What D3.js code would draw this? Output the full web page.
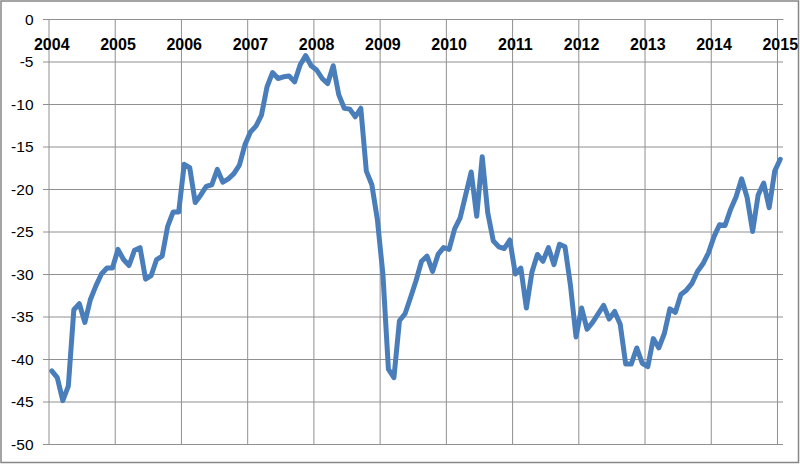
<!DOCTYPE html>
<html><head><meta charset="utf-8">
<script src="https://cdn.jsdelivr.net/npm/d3@7"></script>
<style>body{margin:0;background:#fff}svg{display:block}</style>
</head><body>
<svg id="c" width="800" height="464"></svg>
<script>
const yearLabels = ["2004","2005","2006","2007","2008","2009","2010","2011","2012","2013","2014","2015"];
const yTicks = [0,-5,-10,-15,-20,-25,-30,-35,-40,-45,-50];
const values = [
-41.4,-42.2,-44.9,-43.2,-34.2,-33.5,-35.7,-33.0,-31.4,-30.0,-29.3,-29.3,
-27.1,-28.3,-29.0,-27.2,-26.9,-30.6,-30.2,-28.3,-27.9,-24.4,-22.7,-22.7,
-17.1,-17.5,-21.6,-20.7,-19.7,-19.5,-17.7,-19.2,-18.8,-18.2,-17.2,-14.8,
-13.3,-12.6,-11.3,-8.0,-6.3,-7.0,-6.8,-6.7,-7.4,-5.4,-4.3,-5.5,
-6.0,-7.0,-7.6,-5.5,-8.9,-10.5,-10.6,-11.5,-10.5,-17.9,-19.5,-23.6,
-30.0,-41.2,-42.2,-35.5,-34.7,-32.8,-30.8,-28.5,-27.9,-29.7,-27.7,-26.9,
-27.1,-24.7,-23.4,-20.7,-18.0,-23.2,-16.2,-22.8,-26.1,-26.8,-27.0,-26.0,
-30.0,-29.3,-34.0,-29.8,-27.7,-28.5,-26.9,-28.9,-26.5,-26.8,-31.4,-37.4,
-34.0,-36.5,-35.7,-34.7,-33.7,-35.3,-34.4,-35.9,-40.6,-40.6,-38.7,-40.5,
-40.9,-37.6,-38.7,-37.0,-34.1,-34.5,-32.4,-31.9,-31.1,-29.7,-28.8,-27.5,
-25.6,-24.2,-24.3,-22.4,-20.9,-18.8,-21.0,-25.0,-20.7,-19.3,-22.2,-17.9,
-16.5
];
// categories: one per month starting Jan 2004
const startYear = 2004;
const months = values.map((v, i) => `${startYear + Math.floor(i / 12)}-${String(i % 12 + 1).padStart(2, "0")}`);

const svg = d3.select("#c");
const pL = 49, pR = 783, pT = 19, pB = 444;

const x = d3.scaleBand().domain(months).range([pL, pR]).padding(0);
const y = d3.scaleLinear().domain([-50, 0]).range([pB, pT]);
const bw = x.bandwidth();
const cx = m => x(m) + bw / 2;

// chart border
svg.append("rect").attr("x", 1).attr("y", 1).attr("width", 797.5).attr("height", 461.5)
  .attr("fill", "#fff").attr("stroke", "#868686").attr("stroke-width", 1.5);

const grid = "#909090";
// horizontal gridlines via y axis
const yAxis = d3.axisLeft(y).tickValues(yTicks).tickSize(-(pR - pL)).tickPadding(10)
  .tickFormat(d => String(d));
const gy = svg.append("g").attr("transform", `translate(${pL},0)`).call(yAxis);
gy.select(".domain").remove();
gy.selectAll(".tick line").attr("stroke", grid).attr("stroke-width", 1).attr("x1", -6);
gy.selectAll(".tick text").attr("font-family", "'Liberation Sans', Arial, sans-serif")
  .attr("font-size", "15.5px").attr("fill", "#000").attr("x", -15.5).attr("dy", "0.34em");

// vertical gridlines at year boundaries
const yearStarts = yearLabels.map((lab, k) => months[k * 12]);
svg.append("g").selectAll("line").data(yearStarts).join("line")
  .attr("x1", d => x(d)).attr("x2", d => x(d))
  .attr("y1", pT).attr("y2", pB)
  .attr("stroke", grid).attr("stroke-width", 1);

// x axis at 0 with labels below
const xAxis = d3.axisBottom(x).tickValues(yearStarts).tickSize(0).tickPadding(0)
  .tickFormat((d, i) => yearLabels[i]);
const gx = svg.append("g").attr("transform", `translate(0,${y(0)})`).call(xAxis);
gx.select(".domain").attr("stroke", grid).attr("stroke-width", 1);
gx.selectAll(".tick text").attr("font-family", "'Liberation Sans', Arial, sans-serif")
  .attr("font-size", "16px").attr("font-weight", "bold").attr("fill", "#000")
  .attr("y", 30.5).attr("dy", 0);

// line
const line = d3.line().x((d, i) => cx(months[i])).y(d => y(d));
svg.append("path").datum(values).attr("d", line)
  .attr("fill", "none").attr("stroke", "#4a7ebb").attr("stroke-width", 5)
  .attr("stroke-linejoin", "round").attr("stroke-linecap", "round");
</script>
</body></html>
